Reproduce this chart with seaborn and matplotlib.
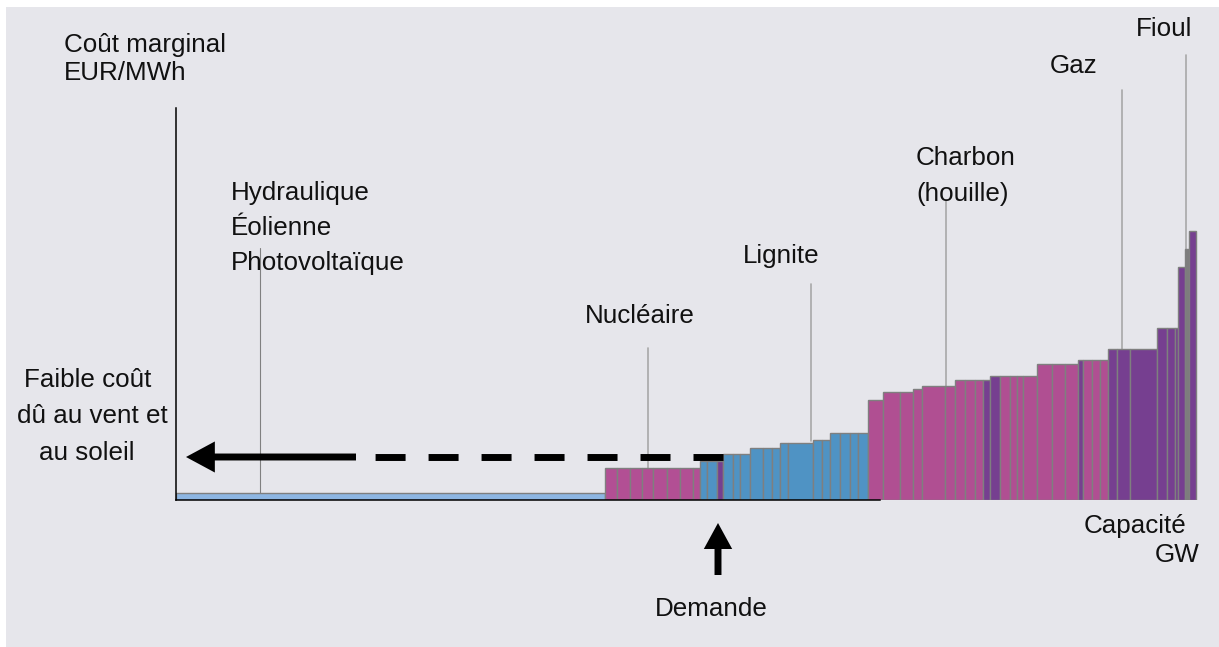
import numpy as np
import matplotlib
matplotlib.use('Agg')
import matplotlib.pyplot as plt
import seaborn as sns
from matplotlib.patches import Rectangle

# merit order: each block of plants, its capacity (GW) and marginal cost (EUR/MWh)
capacity_gw = [42.9,
               1.2, 1.3, 1.2, 1.1, 1.4, 1.3, 1.3, 0.7,
               0.7, 1.0, 0.6, 1.0, 0.7, 1.0, 1.3, 0.9, 0.8, 0.8, 2.5, 0.9, 0.8, 1.0, 1.0, 0.8, 1.0,
               1.5, 1.7, 1.3, 0.9, 2.3, 1.0, 1.0, 1.0, 0.8, 0.7, 1.0, 1.0, 0.7, 0.6, 1.4,
               1.5, 1.3, 1.3, 0.5, 0.9, 0.8, 0.8,
               0.9, 1.3, 2.7, 1.0, 0.8, 0.3, 0.7, 0.4, 0.7]
cost_eur = [3.5,
            16, 16, 16, 16, 16, 16, 16, 16,
            19.5, 19.5, 19.5, 23, 23, 23, 26, 26, 26, 28.5, 28.5, 30, 30, 33.5, 33.5, 33.5, 33.5,
            50, 54, 54, 55.5, 57, 57, 60, 60, 60, 60, 62, 62, 62, 62, 62,
            68, 68, 68, 70, 70, 70, 70,
            75.5, 75.5, 75.5, 86, 86, 86, 116.5, 125.5, 134.5]
# R renewables, N nuclear, L lignite, C hard coal, G gas, O oil
block_type = "R" + "N" * 8 + "LLG" + "L" * 14 + "C" * 9 + "GG" + "C" * 7 + "G" + "C" * 3 + "G" * 7 + "O" + "G"

type_colors = {"R": "#8db6e3", "N": "#b24f94", "L": "#4f93c4", "C": "#b04f92",
               "G": "#763f90", "O": "#7d7d7d"}

# labels of the technologies and where their leader lines point
tech_line_x = [8.4, 47.2, 63.5, 77.0, 94.6, 101.0]
tech_line_top = [126, 76, 108, 150, 205, 222.5]
tech_line_bottom = [3.5, 16, 29.5, 57, 75.5, 125.5]

demand_gw = 54.5
W, H = 1219, 647

sns.set_theme(style="white")
plt.rcParams['font.family'] = ['Liberation Sans', 'DejaVu Sans']

fig = plt.figure(figsize=(W / 100, H / 100), dpi=100)
fig.patch.set_facecolor("white")
fig.patches.append(Rectangle((6 / W, 0), 1, 1 - 7 / H, transform=fig.transFigure,
                             facecolor="#e6e6eb", edgecolor="none", zorder=-10))

ax = fig.add_axes([176 / W, (H - 500) / H, 1024 / W, 392 / H])
ax.set_facecolor("none")

lefts = np.concatenate([[0], np.cumsum(capacity_gw)[:-1]])
colors = [type_colors[t] for t in block_type]
ax.bar(lefts, cost_eur, width=capacity_gw, align="edge", color=colors,
       edgecolor="#7f7f7f", linewidth=1.0, zorder=2)

ax.set_xlim(0, 102.4)
ax.set_ylim(0, 196)
ax.set_xticks([])
ax.set_yticks([])
for side in ["top", "right"]:
    ax.spines[side].set_visible(False)
ax.spines["left"].set_color("black")
ax.spines["left"].set_linewidth(1.1)
ax.spines["bottom"].set_color("black")
ax.spines["bottom"].set_linewidth(1.1)
ax.spines["bottom"].set_bounds(0, 70.4)

# leader lines
for i, (x, top, bot) in enumerate(zip(tech_line_x, tech_line_top, tech_line_bottom)):
    if i == 0:
        ax.plot([x, x], [bot, top], color="#808080", lw=0.8, zorder=3, clip_on=False)
    else:
        ax.plot([x, x], [bot, top], color="#a8a8a8", lw=1.2, zorder=1, clip_on=False)

# low price arrow: dashed part then solid part with head
arrow_y = 21.5
ax.plot([demand_gw + 0.2, 18.2], [arrow_y, arrow_y], color="black", lw=5,
        linestyle=(0, (4.32, 3.31)), dash_capstyle="butt", zorder=4)
ax.annotate("", xy=(1.0, arrow_y), xytext=(18.0, arrow_y),
            arrowprops=dict(arrowstyle="-|>,head_length=0.65,head_width=0.35",
                            mutation_scale=20, lw=5, color="black",
                            capstyle="butt", joinstyle="miter",
                            shrinkA=0, shrinkB=0), zorder=4)

# demand arrow
ax.annotate("", xy=(demand_gw - 0.3, -11.5), xytext=(demand_gw - 0.3, -37.5),
            arrowprops=dict(arrowstyle="-|>,head_length=0.55,head_width=0.3",
                            mutation_scale=20, lw=5, color="black",
                            capstyle="butt", joinstyle="miter",
                            shrinkA=0, shrinkB=0), annotation_clip=False)

texts = [
    ("Coût marginal", 64, 52, "left"),
    ("EUR/MWh", 64, 80, "left"),
    ("Hydraulique", 231, 200, "left"),
    ("Éolienne", 231, 235, "left"),
    ("Photovoltaïque", 231, 270, "left"),
    ("Nucléaire", 585, 323, "left"),
    ("Lignite", 743, 263, "left"),
    ("Charbon", 916, 165, "left"),
    ("(houille)", 916, 201, "left"),
    ("Gaz", 1050, 73, "left"),
    ("Fioul", 1136, 36, "left"),
    ("Faible coût", 88, 387, "center"),
    ("dû au vent et", 92, 423, "center"),
    ("au soleil", 87, 460, "center"),
    ("Capacité", 1084, 533, "left"),
    ("GW", 1199, 562, "right"),
    ("Demande", 711, 616, "center"),
]
for s, x, y, ha in texts:
    fig.text(x / W, 1 - y / H, s, ha=ha, va="baseline", fontsize=18.7, color="#111111")

fig.savefig("out.png", dpi=100)
